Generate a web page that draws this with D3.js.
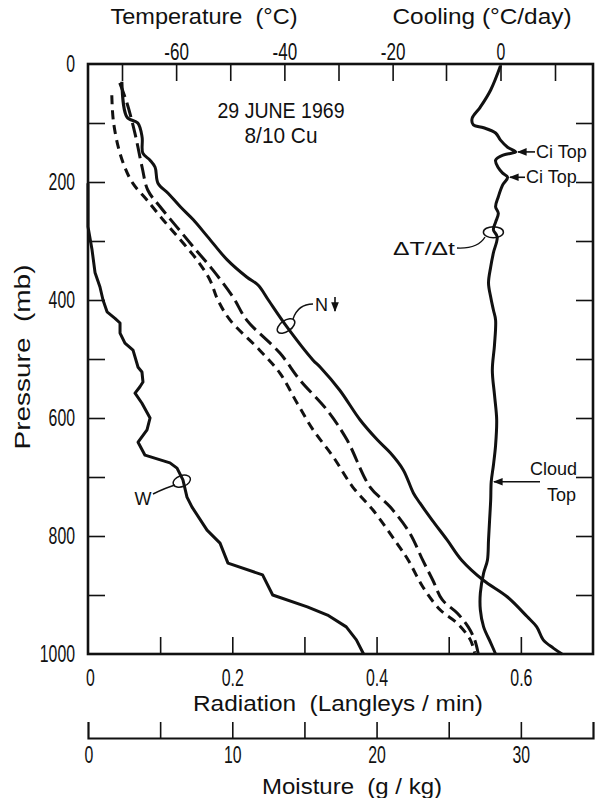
<!DOCTYPE html>
<html><head><meta charset="utf-8">
<script src="https://cdn.jsdelivr.net/npm/d3@7"></script>
<style>
body{margin:0;background:#fff;}
svg text{font-family:"Liberation Sans",Arial,sans-serif;fill:#111;}
</style></head><body>
<svg id="c" width="597" height="798"></svg>
<script>
// ---------------- data ----------------
const pressureLabels = [0,200,400,600,800,1000];
const radiationLabels = [0,0.2,0.4,0.6];
const moistureLabels = [0,10,20,30];
const temperatureLabels = [-60,-40,-20];
const coolingLabels = [0];

// N (downward flux), Langleys/min vs pressure (mb)
const nDownP = [30,90,100,124,151,163,175,202,219,242,264,293,332,361,375,400,446,502,514,553,603,637,659,688,727,744,773,807,841,875,903,937,954,976,990,1000];
const nDownR = [.047,.054,.069,.075,.076,.086,.093,.097,.111,.128,.146,.166,.193,.220,.236,.250,.276,.312,.322,.349,.377,.401,.419,.437,.451,.460,.477,.498,.518,.548,.581,.609,.622,.631,.645,.657];
// long-dashed profile
const midP = [32,66,117,175,214,242,276,310,349,395,434,490,536,586,637,717,751,795,841,875,908,931,954,976,1000];
const midR = [.044,.054,.065,.075,.083,.100,.123,.146,.173,.201,.220,.266,.294,.331,.359,.391,.419,.446,.464,.478,.491,.512,.527,.536,.541];
// short-dashed profile
const leftP = [53,95,141,175,202,231,264,298,332,366,400,434,485,524,575,620,666,717,756,812,841,886,925,948,976,998];
const leftR = [.033,.035,.042,.051,.062,.082,.104,.128,.151,.169,.180,.197,.238,.266,.290,.312,.340,.367,.395,.428,.444,.464,.488,.512,.530,.536];
// W moisture g/kg
const wP = [202,276,315,354,378,400,420,431,439,456,473,485,514,522,539,547,558,575,600,620,641,663,676,685,705,734,751,790,812,846,866,900,920,934,954,976,1000];
const wM = [0,0,0.28,0.49,0.83,1.04,1.32,1.87,2.22,2.22,2.56,3.12,3.47,3.74,3.81,3.60,3.26,3.74,4.30,4.09,3.47,3.95,5.68,6.17,6.58,6.86,7.21,8.25,9.15,9.70,12.1,12.8,15.2,16.6,17.9,18.6,19.1];
// cooling dT/dt, C/day
const coolP = [3,44,73,92,103,108,117,129,141,149,154,163,176,185,192,205,225,242,253,268,281,293,320,344,371,395,417,434,476,519,561,603,646,680,708,739,773,807,841,863,897,925,954,981,1000];
const coolC = [0,-1.8,-3.7,-5.2,-5.0,-3.1,-0.9,0,1.3,2.8,0.6,-0.9,-0.4,0.4,1.3,0.4,-0.4,-0.9,-0.4,-0.9,-1.3,-0.6,-1.3,-1.8,-2.2,-1.8,-1.3,-0.9,-1.1,-1.5,-1.1,-0.7,-0.9,-1.3,-1.7,-1.8,-2.0,-2.2,-2.4,-3.1,-3.7,-3.7,-3.1,-1.8,-0.9];

// ---------------- scales ----------------
const y = d3.scaleLinear().domain([0,1000]).range([64,654]);
const xRad = d3.scaleLinear().domain([0,0.7]).range([88,593]);
const xMoist = d3.scaleLinear().domain([0,35]).range([88,593]);
const xTemp = d3.scaleLinear().domain([-70,10]).range([122,555]);
const xCool = d3.scaleLinear().domain([-10,10]).range([446,555]);

const svg = d3.select("#c");
const INK = "#111";

function fit(sel){
  sel.each(function(){
    const s = this.textContent;
    let w = 0;
    for (const ch of s){ w += (ch === "." ? 4.5 : ch === "-" ? 7 : 8.8); }
    d3.select(this).attr("textLength", w).attr("lengthAdjust","spacingAndGlyphs");
  });
}
function styleAxis(g){
  g.select(".domain").remove();
  g.selectAll(".tick line").attr("stroke",INK).attr("stroke-width",1.6);
  g.selectAll(".tick text").attr("font-size",23).attr("fill",INK).call(fit);
}

// left axis
svg.append("g").attr("transform","translate(88,0)")
  .call(d3.axisLeft(y).tickValues(d3.range(0,1001,100)).tickSize(-17).tickPadding(13)
    .tickFormat(d => pressureLabels.includes(d) ? d : ""))
  .call(styleAxis)
  .call(g => g.selectAll(".tick").filter(d => d===0||d===1000).select("line").remove());
// right ticks
svg.append("g").attr("transform","translate(593,0)")
  .call(d3.axisRight(y).tickValues(d3.range(100,1000,100)).tickSize(-17).tickFormat(""))
  .call(styleAxis);
// top: temperature
svg.append("g").attr("transform","translate(0,64)")
  .call(d3.axisTop(xTemp).tickValues(d3.range(-70,-19,10)).tickSize(-17).tickPadding(4)
    .tickFormat(d => temperatureLabels.includes(d) ? d : ""))
  .call(styleAxis);
// top: cooling
svg.append("g").attr("transform","translate(0,64)")
  .call(d3.axisTop(xCool).tickValues([-10,0,10]).tickSize(-17).tickPadding(4)
    .tickFormat(d => coolingLabels.includes(d) ? d : ""))
  .call(styleAxis);
// bottom: radiation
svg.append("g").attr("transform","translate(0,654)")
  .call(d3.axisBottom(xRad).tickValues([0,0.1,0.2,0.3,0.4,0.5,0.6]).tickSize(-17).tickPadding(16)
    .tickFormat(d => radiationLabels.some(v => Math.abs(v-d)<1e-9) ? (d===0?"0":d3.format(".1f")(d)) : ""))
  .call(styleAxis)
  .call(g => g.selectAll(".tick").filter(d => d===0).select("line").remove())
  .call(g => g.selectAll(".tick").filter(d => d===0).select("text").attr("x",2));
// moisture axis
const mAx = svg.append("g").attr("transform","translate(0,738)")
  .call(d3.axisBottom(xMoist).tickValues(d3.range(5,31,5)).tickSize(-16).tickSizeOuter(-16).tickPadding(9)
    .tickFormat(d => moistureLabels.includes(d) ? d : ""));
mAx.select(".domain").attr("stroke",INK).attr("stroke-width",2.2);
mAx.selectAll(".tick line").attr("stroke",INK).attr("stroke-width",1.6);
mAx.selectAll(".tick text").attr("font-size",23).attr("fill",INK).call(fit);
mAx.append("text").attr("x",xMoist(0)+1).attr("y",9).attr("dy","0.71em").attr("text-anchor","middle")
  .attr("font-size",23).attr("fill",INK).text("0").call(fit);

// frame
svg.append("rect").attr("x",88).attr("y",64).attr("width",505).attr("height",590)
  .attr("fill","none").attr("stroke",INK).attr("stroke-width",2.6);

// ---------------- curves ----------------
const lineR = d3.line().x(d=>xRad(d[1])).y(d=>y(d[0])).curve(d3.curveCatmullRom.alpha(0.5));
const zip = (a,b) => a.map((v,i)=>[v,b[i]]);
svg.append("path").attr("d", lineR(zip(leftP,leftR))).attr("fill","none")
  .attr("stroke",INK).attr("stroke-width",3).attr("stroke-dasharray","9,6");
svg.append("path").attr("d", lineR(zip(midP,midR))).attr("fill","none")
  .attr("stroke",INK).attr("stroke-width",3).attr("stroke-dasharray","15,6");
svg.append("path").attr("d", lineR(zip(nDownP,nDownR))).attr("fill","none")
  .attr("stroke",INK).attr("stroke-width",3);
const lineW = d3.line().x(d=>xMoist(d[1])).y(d=>y(d[0]));
svg.append("path").attr("d", lineW(zip(wP,wM))).attr("fill","none")
  .attr("stroke",INK).attr("stroke-width",3).attr("stroke-linejoin","round");
const lineC = d3.line().x(d=>xCool(d[1])).y(d=>y(d[0])).curve(d3.curveCatmullRom.alpha(0.5));
svg.append("path").attr("d", lineC(zip(coolP,coolC))).attr("fill","none")
  .attr("stroke",INK).attr("stroke-width",3);

// ---------------- text ----------------
function txt(x,yy,s,size,opts={}){
  const t = svg.append("text").attr("x",x).attr("y",yy).attr("font-size",size)
    .attr("text-anchor",opts.anchor||"start").attr("fill",INK).style("white-space","pre").text(s);
  if(opts.len) t.attr("textLength",opts.len).attr("lengthAdjust","spacingAndGlyphs");
  return t;
}
txt(204,24,"Temperature  (°C)",22,{anchor:"middle",len:187});
txt(482,24,"Cooling (°C/day)",22,{anchor:"middle",len:179});
txt(338,711,"Radiation  (Langleys / min)",22,{anchor:"middle",len:290});
txt(352,794,"Moisture  (g / kg)",22,{anchor:"middle",len:180});
svg.append("text").attr("transform","translate(30,357) rotate(-90)").attr("text-anchor","middle")
  .attr("font-size",22).attr("fill",INK).style("white-space","pre")
  .attr("textLength",185).attr("lengthAdjust","spacingAndGlyphs").text("Pressure  (mb)");
txt(281,118,"29 JUNE 1969",22,{anchor:"middle",len:127});
txt(281,143,"8/10 Cu",22,{anchor:"middle",len:73});

// annotations
const defs = svg.append("defs");
defs.append("marker").attr("id","ah").attr("viewBox","0 0 10 10").attr("refX",9).attr("refY",5)
  .attr("markerWidth",7).attr("markerHeight",6).attr("orient","auto")
  .append("path").attr("d","M0,1 L10,5 L0,9 Z").attr("fill",INK);
function arrow(x1,y1,x2,y2){
  svg.append("line").attr("x1",x1).attr("y1",y1).attr("x2",x2).attr("y2",y2)
    .attr("stroke",INK).attr("stroke-width",1.6).attr("marker-end","url(#ah)");
}
// Ci Top
arrow(535, y(149), 518, y(149));
txt(536, y(149)+6, "Ci Top", 18);
arrow(525, y(192), 510, y(192));
txt(526, y(192)+6, "Ci Top", 18);
// Cloud Top
arrow(540, y(708), 494, y(708));
txt(530, y(708)-7, "Cloud", 18);
txt(547, y(708)+19, "Top", 18);
// dT/dt
txt(455, 255, "ΔT/Δt", 19, {anchor:"end", len:62});
svg.append("ellipse").attr("cx",xCool(-1.3)).attr("cy",y(285)).attr("rx",10).attr("ry",5.5)
  .attr("fill","none").attr("stroke",INK).attr("stroke-width",1.5);
svg.append("path").attr("d",`M457,248 Q478,249 485,237`).attr("fill","none").attr("stroke",INK).attr("stroke-width",1.4);
// N
svg.append("ellipse").attr("transform",`translate(${xRad(0.2745)},${y(444)}) rotate(-35)`)
  .attr("rx",10).attr("ry",5.5).attr("fill","none").attr("stroke",INK).attr("stroke-width",1.5);
svg.append("path").attr("d",`M293,319 Q298,304 313,304`).attr("fill","none").attr("stroke",INK).attr("stroke-width",1.4);
txt(315, 311, "N", 18);
svg.append("line").attr("x1",335).attr("y1",297).attr("x2",335).attr("y2",311)
  .attr("stroke",INK).attr("stroke-width",1.6).attr("marker-end","url(#ah)");
// W
svg.append("ellipse").attr("transform",`translate(${xMoist(6.5)},${y(707)}) rotate(-20)`)
  .attr("rx",9).attr("ry",5.5).attr("fill","none").attr("stroke",INK).attr("stroke-width",1.5);
txt(143, 505, "W", 18, {anchor:"middle"});
svg.append("path").attr("d",`M153,494 Q165,488 175,485`).attr("fill","none").attr("stroke",INK).attr("stroke-width",1.4);
</script>
</body></html>
